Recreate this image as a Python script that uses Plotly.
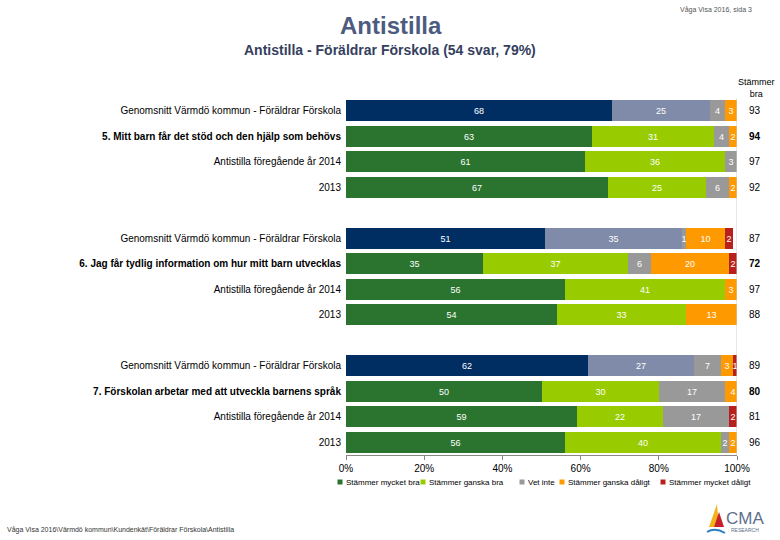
import plotly.graph_objects as go

# ---------------- data ----------------
row_labels = [
    "Genomsnitt Värmdö kommun - Föräldrar Förskola",
    "5. Mitt barn får det stöd och den hjälp som behövs",
    "Antistilla föregående år 2014",
    "2013",
    "Genomsnitt Värmdö kommun - Föräldrar Förskola",
    "6. Jag får tydlig information om hur mitt barn utvecklas",
    "Antistilla föregående år 2014",
    "2013",
    "Genomsnitt Värmdö kommun - Föräldrar Förskola",
    "7. Förskolan arbetar med att utveckla barnens språk",
    "Antistilla föregående år 2014",
    "2013",
]
row_kind = ["avg", "q", "prev", "prev"] * 3
row_pos = [0, 1, 2, 3, 5, 6, 7, 8, 10, 11, 12, 13]

series_names = ["Stämmer mycket bra", "Stämmer ganska bra", "Vet inte",
                "Stämmer ganska dåligt", "Stämmer mycket dåligt"]
mycket_bra = [68, 63, 61, 67, 51, 35, 56, 54, 62, 50, 59, 56]
ganska_bra = [25, 31, 36, 25, 35, 37, 41, 33, 27, 30, 22, 40]
vet_inte = [4, 4, 3, 6, 1, 6, 0, 0, 7, 17, 17, 2]
ganska_daligt = [3, 2, 0, 2, 10, 20, 3, 13, 3, 4, 0, 2]
mycket_daligt = [1, 0, 0, 0, 2, 2, 0, 0, 1, 0, 2, 0]
stammer_bra = [93, 94, 97, 92, 87, 72, 97, 88, 89, 80, 81, 96]
x_ticks = [0, 20, 40, 60, 80, 100]
x_tick_labels = ["0%", "20%", "40%", "60%", "80%", "100%"]

# ---------------- style ----------------
FONT = "Liberation Sans, Arial, sans-serif"
W, H = 780, 540
L, R, T, B = 346, 43, 98, 85
PW, PH = W - L - R, H - T - B
colors = ["#2B7430", "#99CC00", "#999999", "#FF9900", "#B8201E"]
avg_colors = ["#002D62", "#7F8BA8", "#999999", "#FF9900", "#B8201E"]


def px(x):
    return (x - L) / PW


def py(y):
    return (H - B - y) / PH


all_series = [mycket_bra, ganska_bra, vet_inte, ganska_daligt, mycket_daligt]

fig = go.Figure()
idx_avg = [i for i, k in enumerate(row_kind) if k == "avg"]
idx_other = [i for i, k in enumerate(row_kind) if k != "avg"]

for s, (name, vals) in enumerate(zip(series_names, all_series)):
    for idxs, cols in ((idx_other, colors), (idx_avg, avg_colors)):
        v = [vals[i] for i in idxs]
        fig.add_trace(go.Bar(
            x=v,
            y=[row_pos[i] for i in idxs],
            orientation="h",
            name=name,
            showlegend=False,
            marker=dict(color=cols[s], line=dict(width=0)),
            width=0.82,
            text=[str(a) if a > 0 else "" for a in v],
            textposition="inside",
            insidetextanchor="middle",
            textfont=dict(color="white", size=9, family=FONT),
            hoverinfo="x+name",
        ))

tick_text = []
for lab, kind in zip(row_labels, row_kind):
    tick_text.append(f"<b>{lab}</b>" if kind == "q" else lab)

fig.update_layout(
    barmode="stack",
    width=W, height=H,
    margin=dict(l=L, r=R, t=T, b=B, autoexpand=False),
    paper_bgcolor="white",
    plot_bgcolor="white",
    font=dict(family=FONT, color="black", size=9),
    uniformtext=dict(minsize=9, mode="show"),
    showlegend=False,
    xaxis=dict(range=[0, 100], tickvals=x_ticks, ticktext=x_tick_labels,
               showgrid=False, zeroline=False, showline=True,
               linecolor="#888888", linewidth=1, ticks="outside",
               ticklen=4, tickcolor="#888888",
               tickfont=dict(size=10, color="black")),
    yaxis=dict(range=[13.5, -0.5], tickvals=row_pos, ticktext=tick_text,
               showgrid=False, zeroline=False, showline=False, ticks="",
               ticklabelstandoff=4,
               tickfont=dict(size=10, color="black")),
    bargap=0,
)

# right edge vertical line
fig.add_shape(type="line", xref="x", yref="paper", x0=100, x1=100, y0=0, y1=1,
              line=dict(color="#CCCCCC", width=1))

annos = []
for pos, val, kind in zip(row_pos, stammer_bra, row_kind):
    annos.append(dict(xref="paper", yref="y", x=px(755), y=pos, xanchor="center",
                      text=f"<b>{val}</b>" if kind == "q" else str(val),
                      showarrow=False, font=dict(size=10, color="black")))
annos.append(dict(xref="paper", yref="paper", x=px(756), y=py(88),
                  text="Stämmer<br>bra", showarrow=False, align="center",
                  xanchor="center", yanchor="middle",
                  font=dict(size=9, color="black")))
annos.append(dict(xref="paper", yref="paper", x=px(391), y=py(25),
                  xanchor="center", yanchor="middle",
                  text="<b>Antistilla</b>", showarrow=False,
                  font=dict(size=24, color="#4D5B80")))
annos.append(dict(xref="paper", yref="paper", x=px(390), y=py(50),
                  xanchor="center", yanchor="middle",
                  text="<b>Antistilla - Föräldrar Förskola (54 svar, 79%)</b>",
                  showarrow=False, font=dict(size=14, color="#34405E")))
annos.append(dict(xref="paper", yref="paper", x=px(716), y=py(10),
                  xanchor="center", yanchor="middle",
                  text="Våga Visa 2016, sida 3", showarrow=False,
                  font=dict(size=7, color="#555555")))
annos.append(dict(xref="paper", yref="paper", x=px(5), y=py(530),
                  xanchor="left", yanchor="middle",
                  text="Våga Visa 2016\\Värmdö kommun\\Kundenkät\\Föräldrar Förskola\\Antistilla",
                  showarrow=False, font=dict(size=7, color="#333333")))
annos.append(dict(xref="paper", yref="paper", x=px(724), y=py(518),
                  xanchor="left", yanchor="middle", text="CMA", showarrow=False,
                  font=dict(size=17, color="#5E6F8E")))
annos.append(dict(xref="paper", yref="paper", x=px(745), y=py(530),
                  xanchor="center", yanchor="middle", text="RESEARCH",
                  showarrow=False, font=dict(size=5, color="#5E6F8E")))

# manual legend
legend_sq_x = [340, 423, 522, 562, 663]
legend_y = 482
for sx, name, col in zip(legend_sq_x, series_names, colors):
    fig.add_shape(type="rect", xref="paper", yref="paper",
                  x0=px(sx - 2.5), x1=px(sx + 2.5), y0=py(legend_y + 2.5), y1=py(legend_y - 2.5),
                  fillcolor=col, line=dict(width=0))
    annos.append(dict(xref="paper", yref="paper", x=px(sx + 4), y=py(legend_y),
                      xanchor="left", yanchor="middle", text=name, showarrow=False,
                      font=dict(size=8, color="black")))

fig.update_layout(annotations=annos)

# simple sail logo
def path(pts):
    return "M " + " L ".join(f"{px(a):.4f},{py(b):.4f}" for a, b in pts) + " Z"


fig.add_shape(type="path", xref="paper", yref="paper",
              path=path([(717, 504), (709, 527), (719, 527)]),
              fillcolor="#F2B21B", line=dict(width=0))
fig.add_shape(type="path", xref="paper", yref="paper",
              path=path([(719, 512), (714, 527), (724, 527)]),
              fillcolor="#C8202A", line=dict(width=0))
fig.add_shape(type="path", xref="paper", yref="paper",
              path=f"M {px(707):.4f},{py(532):.4f} Q {px(715):.4f},{py(527):.4f} {px(725):.4f},{py(533):.4f}",
              line=dict(color="#2E7DC2", width=2))

fig.write_html("out.html", config={"displayModeBar": False},
               post_script="document.body.style.margin='0';document.body.style.overflow='hidden';")
